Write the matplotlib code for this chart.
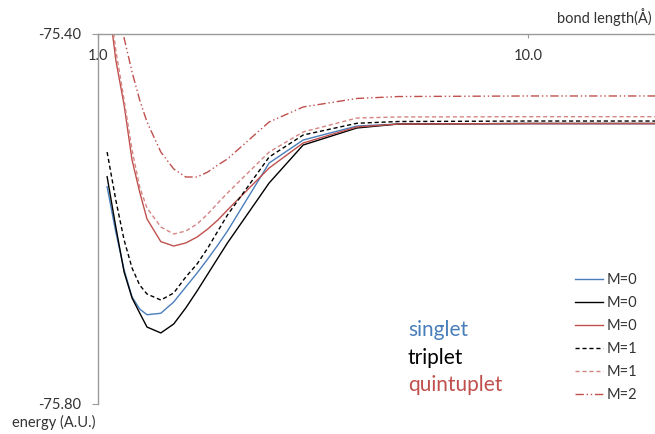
import numpy as np
import matplotlib
matplotlib.use("Agg")
import matplotlib.pyplot as plt
from matplotlib.ticker import FixedLocator, NullLocator, FormatStrFormatter

# --- DATA ---
bond_length = [1.05, 1.1, 1.15, 1.2, 1.25, 1.3, 1.4, 1.5, 1.6, 1.7,
               1.8, 1.9, 2.0, 2.5, 3.0, 4.0, 5.0, 10.0, 20.0]

singlet_m0 = [-75.5651, -75.6141, -75.6551, -75.6843, -75.6973, -75.7035, -75.7019,
              -75.6897, -75.6735, -75.6584, -75.6432, -75.6281, -75.6130, -75.5395,
              -75.5146, -75.4995, -75.4973, -75.4968, -75.4968]

triplet_m0 = [-75.5543, -75.6086, -75.6573, -75.6854, -75.7016, -75.7168, -75.7232,
              -75.7135, -75.6962, -75.6778, -75.6595, -75.6422, -75.6259, -75.5611,
              -75.5200, -75.5016, -75.4973, -75.4968, -75.4968]

quintuplet_m0 = [-75.3524, -75.4281, -75.4768, -75.5362, -75.5708, -75.6000, -75.6245,
                 -75.6292, -75.6259, -75.6195, -75.6108, -75.6011, -75.5903, -75.5449,
                 -75.5178, -75.5005, -75.4973, -75.4968, -75.4968]

triplet_m1 = [-75.5276, -75.5795, -75.6227, -75.6530, -75.6714, -75.6811, -75.6876,
              -75.6800, -75.6627, -75.6486, -75.6314, -75.6130, -75.5957, -75.5330,
              -75.5092, -75.4965, -75.4946, -75.4941, -75.4941]

quintuplet_m1 = [-75.3459, -75.4173, -75.4714, -75.5254, -75.5654, -75.5881, -75.6086,
                 -75.6162, -75.6130, -75.6054, -75.5946, -75.5827, -75.5719, -75.5276,
                 -75.5059, -75.4908, -75.4897, -75.4894, -75.4894]

quintuplet_m2 = [-75.3092, -75.3632, -75.4043, -75.4411, -75.4714, -75.4951, -75.5276,
                 -75.5459, -75.5546, -75.5546, -75.5492, -75.5416, -75.5351, -75.4951,
                 -75.4789, -75.4697, -75.4676, -75.4670, -75.4670]

x_ticks = [1.0, 10.0]
y_ticks = [-75.80, -75.40]

BLUE = "#4A7EBB"
RED = "#C0504D"
PINK = "#D48583"
GREY = "#9A9A9A"
TEXT = "#333333"

plt.rcParams["font.family"] = ["Lato", "DejaVu Sans"]

fig = plt.figure(figsize=(6.55, 4.34), dpi=100)
ax = fig.add_axes([98 / 655, 1 - 404 / 434, 1 - 98 / 655, 370 / 434])

# --- CURVES ---
ax.plot(bond_length, singlet_m0, color=BLUE, lw=1.0, label="M=0")
ax.plot(bond_length, triplet_m0, color="black", lw=1.0, label="M=0")
ax.plot(bond_length, quintuplet_m0, color=RED, lw=1.0, label="M=0")
ax.plot(bond_length, triplet_m1, color="black", lw=1.0, dashes=(3, 2), label="M=1")
ax.plot(bond_length, quintuplet_m1, color=PINK, lw=1.0, dashes=(3, 2), label="M=1")
ax.plot(bond_length, quintuplet_m2, color=RED, lw=1.0,
        dashes=(6, 2, 1, 2, 1, 2), label="M=2")

# --- AXES ---
ax.set_xscale("log")
ax.set_xlim(1.0, 10 ** ((655 - 98) / 430))
ax.set_ylim(-75.80, -75.40)

ax.xaxis.set_major_locator(FixedLocator(x_ticks))
ax.xaxis.set_minor_locator(NullLocator())
ax.xaxis.set_major_formatter(FormatStrFormatter("%.1f"))
ax.yaxis.set_major_locator(FixedLocator(y_ticks))
ax.yaxis.set_major_formatter(FormatStrFormatter("%.2f"))

ax.tick_params(axis="x", which="major", top=True, bottom=False, labeltop=True,
               labelbottom=False, direction="in", length=3, color=GREY,
               pad=-21, labelsize=10.5, labelcolor=TEXT)
ax.tick_params(axis="y", which="major", direction="out", length=4, color=GREY,
               pad=8, labelsize=10.5, labelcolor=TEXT)

for side in ["right", "bottom"]:
    ax.spines[side].set_visible(False)
for side in ["left", "top"]:
    ax.spines[side].set_color(GREY)
    ax.spines[side].set_linewidth(1.0)

# axis titles
fig.text(652 / 655, 1 - 23 / 434, "bond length(Å)", ha="right", va="baseline",
         fontsize=10.5, color=TEXT)
fig.text(12 / 655, 1 - 427 / 434, "energy (A.U.)", ha="left", va="baseline",
         fontsize=10.5, color=TEXT)

# spin state labels
fig.text(408 / 655, 1 - 336 / 434, "singlet", color=BLUE, fontsize=15, va="baseline")
fig.text(408 / 655, 1 - 364 / 434, "triplet", color="black", fontsize=15, va="baseline")
fig.text(408 / 655, 1 - 391 / 434, "quintuplet", color=RED, fontsize=15, va="baseline")

# --- LEGEND ---
leg = ax.legend(loc="upper left", bbox_to_anchor=(575 / 655, 1 - 273 / 434),
                bbox_transform=fig.transFigure, frameon=False, fontsize=10.5,
                handlelength=1.9, handletextpad=0.3, labelspacing=0.62,
                borderpad=0, borderaxespad=0)
for t in leg.get_texts():
    t.set_color(TEXT)

fig.savefig("out.png", dpi=100)
